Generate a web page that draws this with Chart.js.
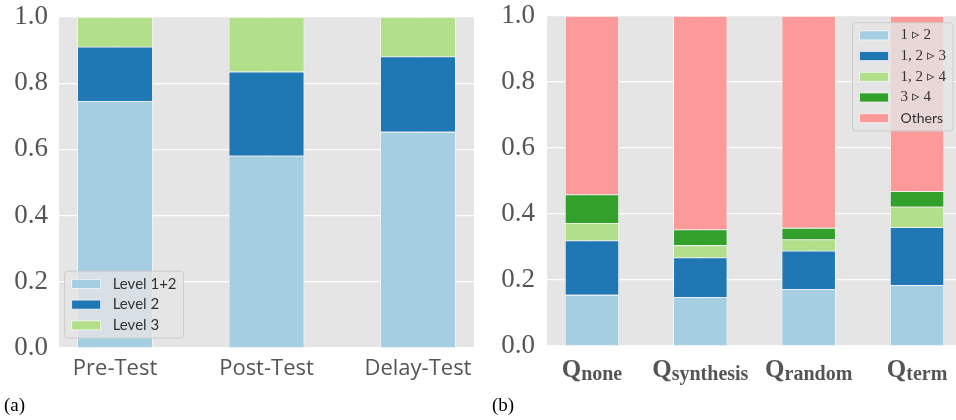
<!DOCTYPE html>
<html>
<head>
<meta charset="utf-8">
<script src="https://cdn.jsdelivr.net/npm/chart.js@4/dist/chart.umd.min.js"></script>
<style>
body{margin:0;width:956px;height:420px;overflow:hidden;background:#fff;position:relative;}
#caixaA{position:absolute;left:0;top:0;width:480px;height:420px;}
#caixaB{position:absolute;left:480px;top:0;width:490px;height:420px;}
.rotulo{position:absolute;top:394px;font-family:"Liberation Serif",serif;font-size:19px;color:#000;}
</style>
</head>
<body>
<div id="caixaA"><canvas id="graficoA"></canvas></div>
<div id="caixaB"><canvas id="graficoB"></canvas></div>
<div class="rotulo" style="left:4px">(a)</div>
<div class="rotulo" style="left:492px">(b)</div>
<script>
// (a) niveis por teste
var testes = ['Pre-Test', 'Post-Test', 'Delay-Test'];
var nivel12 = [0.746, 0.581, 0.653];
var nivel2 = [0.164, 0.254, 0.228];
var nivel3 = [0.090, 0.165, 0.119];

// (b) transicoes por consulta
var consultas = ['none', 'synthesis', 'random', 'term'];
var de1para2 = [0.155, 0.148, 0.173, 0.184];
var de12para3 = [0.165, 0.120, 0.116, 0.176];
var de12para4 = [0.053, 0.037, 0.034, 0.062];
var de3para4 = [0.086, 0.048, 0.035, 0.047];
var outros = [0.541, 0.647, 0.642, 0.531];

var marcasY = [0, 0.2, 0.4, 0.6, 0.8, 1.0];

var cores = {
    azulClaro: '#a6cee3',
    azul: '#1f78b4',
    verdeClaro: '#b2df8a',
    verde: '#33a02c',
    rosa: '#fb9a99'
};

function pontos(valores){
    var d = [];
    for(var i=0;i<valores.length;i++){
        d.push({x: i, y: valores[i]});
    }
    return d;
}

function serie(label, valores, cor){
    return {
        label: label,
        data: pontos(valores),
        backgroundColor: cor,
        borderColor: 'rgba(255,255,255,0.9)',
        borderWidth: 0.8,
        barPercentage: 0.5,
        categoryPercentage: 1
    };
}

var fundoCinza = {
    id: 'fundoCinza',
    beforeDraw: function(chart){
        var a = chart.chartArea;
        var ctx = chart.ctx;
        ctx.save();
        ctx.fillStyle = '#e5e5e5';
        ctx.fillRect(a.left, a.top, a.right - a.left, a.bottom - a.top);
        ctx.restore();
    }
};

var legendaDentro = {
    id: 'legendaDentro',
    afterDatasetsDraw: function(chart, args, op){
        if(!op || !op.itens) return;
        var ctx = chart.ctx;
        var a = chart.chartArea;
        var linha = 20.7;
        var maior = 0;
        ctx.save();
        for(var i=0;i<op.itens.length;i++){
            ctx.font = op.itens[i].fonte;
            maior = Math.max(maior, ctx.measureText(op.itens[i].texto).width);
        }
        var larg = 7 + 29 + 12 + maior + 7;
        var alt = op.itens.length * linha + 4.7;
        var x0, y0;
        if(op.canto == 'baixoEsq'){
            x0 = a.left + op.dx;
            y0 = a.bottom - op.dy - alt;
        } else {
            x0 = a.right - op.dx - larg;
            y0 = a.top + op.dy;
        }
        ctx.beginPath();
        ctx.roundRect(x0, y0, larg, alt, 3);
        ctx.fillStyle = 'rgba(229,229,229,0.8)';
        ctx.fill();
        ctx.strokeStyle = '#cccccc';
        ctx.lineWidth = 1;
        ctx.stroke();
        for(var i=0;i<op.itens.length;i++){
            var cy = y0 + 2.35 + linha * (i + 0.5);
            ctx.fillStyle = op.itens[i].cor;
            ctx.fillRect(x0 + 7, cy - 4.5, 29, 9);
            ctx.strokeStyle = 'rgba(255,255,255,0.8)';
            ctx.lineWidth = 0.8;
            ctx.strokeRect(x0 + 7, cy - 4.5, 29, 9);
            ctx.fillStyle = '#333';
            ctx.font = op.itens[i].fonte;
            ctx.textBaseline = 'middle';
            ctx.textAlign = 'left';
            ctx.fillText(op.itens[i].texto, x0 + 48, cy);
        }
        ctx.restore();
    }
};

var rotulosQ = {
    id: 'rotulosQ',
    afterDraw: function(chart, args, op){
        if(!op || !op.nomes) return;
        var ctx = chart.ctx;
        var esc = chart.scales.x;
        ctx.save();
        ctx.fillStyle = '#555';
        ctx.textBaseline = 'alphabetic';
        ctx.textAlign = 'left';
        for(var i=0;i<op.nomes.length;i++){
            var px = esc.getPixelForValue(i);
            ctx.font = 'bold 25px "Liberation Serif"';
            var wq = ctx.measureText('Q').width;
            ctx.font = 'bold 20px "Liberation Serif"';
            var ws = ctx.measureText(op.nomes[i]).width;
            var ini = px - (wq + ws) / 2;
            ctx.font = 'bold 25px "Liberation Serif"';
            ctx.fillText('Q', ini, 377);
            ctx.font = 'bold 20px "Liberation Serif"';
            ctx.fillText(op.nomes[i], ini + wq, 380);
        }
        ctx.restore();
    }
};

function eixoY(larguraEixo, pad){
    return {
        type: 'linear',
        stacked: true,
        min: 0,
        max: 1,
        afterBuildTicks: function(s){
            s.ticks = marcasY.map(function(v){ return {value: v}; });
        },
        afterFit: function(s){
            s.width = larguraEixo;
            s.paddingTop = 0;
            s.paddingBottom = 0;
        },
        border: {display: false},
        grid: {color: '#ffffff', lineWidth: 1.2, drawTicks: false},
        ticks: {
            padding: pad,
            color: '#555',
            font: {family: '"Liberation Serif"', size: 27},
            callback: function(v){ return v.toFixed(1); }
        }
    };
}

function eixoX(nomes, margem, alturaEixo, mostrar){
    return {
        type: 'linear',
        stacked: true,
        offset: false,
        min: -margem,
        max: nomes.length - 1 + margem,
        afterBuildTicks: function(s){
            s.ticks = nomes.map(function(n, i){ return {value: i}; });
        },
        afterFit: function(s){
            s.height = alturaEixo;
            s.paddingLeft = 0;
            s.paddingRight = 0;
        },
        border: {display: false},
        grid: {color: '#ffffff', lineWidth: 1.2, drawTicks: false, offset: false},
        ticks: {
            display: mostrar,
            padding: 8,
            color: '#555',
            font: {family: '"Open Sans"', size: 22},
            callback: function(v){ return nomes[v]; }
        }
    };
}

function criaGraficoA(){
    new Chart('graficoA', {
        type: 'bar',
        data: {
            datasets: [
                serie('Level 1+2', nivel12, cores.azulClaro),
                serie('Level 2', nivel2, cores.azul),
                serie('Level 3', nivel3, cores.verdeClaro)
            ]
        },
        options: {
            responsive: true,
            maintainAspectRatio: false,
            animation: false,
            layout: {padding: {top: 17, right: 6, left: 0, bottom: 0}},
            scales: {
                x: eixoX(testes, 0.37, 72, true),
                y: eixoY(59, 11)
            },
            plugins: {
                legend: {display: false},
                tooltip: {enabled: false},
                legendaDentro: {
                    canto: 'baixoEsq', dx: 5.7, dy: 10,
                    itens: [
                        {texto: 'Level 1+2', cor: cores.azulClaro, fonte: '15px Lato'},
                        {texto: 'Level 2', cor: cores.azul, fonte: '15px Lato'},
                        {texto: 'Level 3', cor: cores.verdeClaro, fonte: '15px Lato'}
                    ]
                }
            }
        },
        plugins: [fundoCinza, legendaDentro]
    });
}

function criaGraficoB(){
    var serif = '15px "Liberation Serif"';
    new Chart('graficoB', {
        type: 'bar',
        data: {
            datasets: [
                serie('1 ▹ 2', de1para2, cores.azulClaro),
                serie('1, 2 ▹ 3', de12para3, cores.azul),
                serie('1, 2 ▹ 4', de12para4, cores.verdeClaro),
                serie('3 ▹ 4', de3para4, cores.verde),
                serie('Others', outros, cores.rosa)
            ]
        },
        options: {
            responsive: true,
            maintainAspectRatio: false,
            animation: false,
            layout: {padding: {top: 16, right: 8, left: 0, bottom: 0}},
            scales: {
                x: eixoX(consultas, 0.415, 74, false),
                y: eixoY(67, 12)
            },
            plugins: {
                legend: {display: false},
                tooltip: {enabled: false},
                legendaDentro: {
                    canto: 'cimaDir', dx: 9, dy: 6.7,
                    itens: [
                        {texto: '1 ▹ 2', cor: cores.azulClaro, fonte: serif},
                        {texto: '1, 2 ▹ 3', cor: cores.azul, fonte: serif},
                        {texto: '1, 2 ▹ 4', cor: cores.verdeClaro, fonte: serif},
                        {texto: '3 ▹ 4', cor: cores.verde, fonte: serif},
                        {texto: 'Others', cor: cores.rosa, fonte: '14px Lato'}
                    ]
                },
                rotulosQ: {nomes: consultas}
            }
        },
        plugins: [fundoCinza, legendaDentro, rotulosQ]
    });
}

criaGraficoA();
criaGraficoB();
</script>
</body>
</html>
